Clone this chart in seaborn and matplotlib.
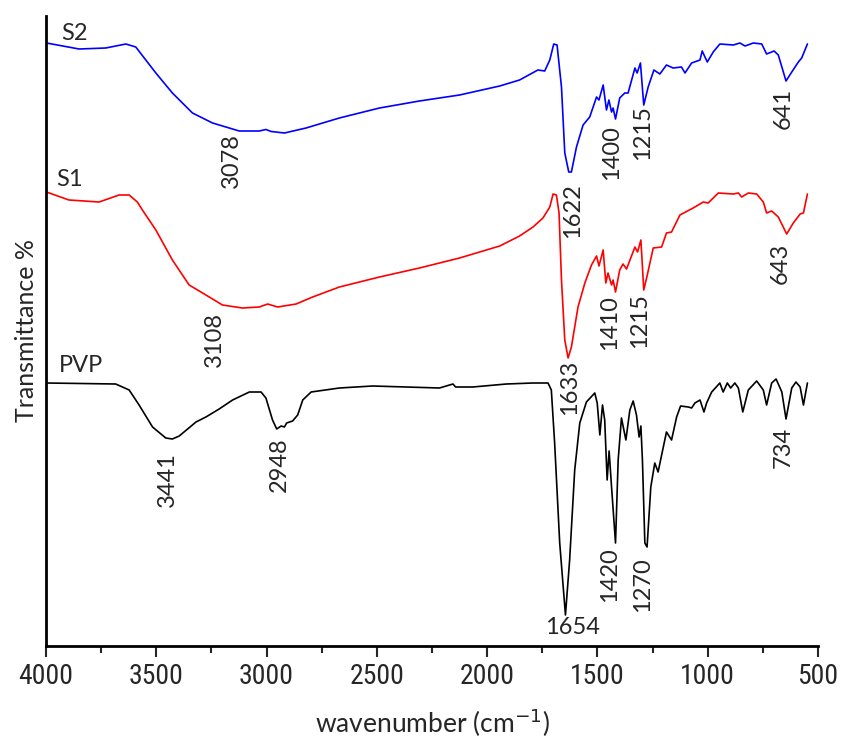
import matplotlib
matplotlib.use("Agg")
import matplotlib.pyplot as plt
from matplotlib import font_manager
import numpy as np
import pandas as pd
import seaborn as sns

# FTIR spectra (offset for display), wavenumber in cm^-1
s2_wn = [3998, 3850, 3729, 3638, 3593, 3502, 3427, 3336, 3245, 3124, 3033, 3003, 2979, 2919,
         2821, 2670, 2488, 2307, 2125, 1943, 1853, 1770, 1739, 1716, 1698, 1683, 1663, 1648,
         1630, 1618, 1595, 1565, 1535, 1504, 1493, 1474, 1459, 1448, 1436, 1429, 1418, 1399,
         1376, 1361, 1330, 1320, 1305, 1290, 1270, 1244, 1217, 1187, 1157, 1119, 1103, 1073,
         1035, 1025, 1002, 975, 945, 884, 854, 831, 793, 755, 733, 699, 680, 645, 619, 589,
         574, 548]
s2_t = [60.3, 59.7, 59.8, 60.2, 59.9, 57.3, 55.3, 53.3, 52.3, 51.5, 51.5, 51.65, 51.45, 51.3,
        51.8, 52.8, 53.8, 54.5, 55.1, 56.0, 56.6, 57.6, 57.5, 58.6, 60.2, 60.1, 55.9, 49.3,
        47.4, 47.4, 49.9, 52.1, 52.9, 54.9, 54.6, 56.1, 53.6, 54.6, 53.4, 53.8, 52.7, 54.8,
        55.3, 55.3, 57.8, 57.3, 58.3, 54.1, 55.9, 57.6, 57.2, 58.1, 57.8, 57.9, 57.3, 58.3,
        58.6, 59.5, 58.4, 59.4, 60.2, 60.1, 60.3, 60.0, 60.3, 60.2, 59.2, 59.5, 59.1, 56.5,
        57.4, 58.4, 58.8, 60.2]

s1_wn = [3998, 3896, 3759, 3669, 3623, 3586, 3563, 3502, 3427, 3351, 3275, 3200, 3109, 3033,
         2995, 2950, 2866, 2791, 2670, 2488, 2307, 2125, 1943, 1853, 1792, 1747, 1716, 1701,
         1686, 1674, 1663, 1648, 1633, 1618, 1588, 1557, 1527, 1504, 1493, 1474, 1462, 1452,
         1436, 1429, 1418, 1399, 1384, 1368, 1330, 1318, 1303, 1290, 1277, 1247, 1209, 1187,
         1164, 1126, 1066, 1020, 998, 952, 884, 861, 846, 816, 778, 748, 733, 710, 680, 642,
         612, 581, 566, 548]
s1_t = [45.4, 44.6, 44.4, 45.1, 45.1, 44.4, 43.6, 41.6, 38.6, 36.1, 35.1, 34.1, 33.8, 33.9,
        34.2, 33.9, 34.2, 34.9, 35.9, 36.9, 37.8, 38.8, 40.0, 41.0, 41.9, 42.8, 43.9, 45.2,
        45.1, 43.3, 36.6, 30.6, 28.8, 29.9, 33.9, 36.3, 38.1, 39.0, 38.0, 39.6, 36.3, 37.3,
        36.1, 36.6, 35.4, 37.6, 38.2, 37.7, 39.9, 39.4, 40.6, 35.6, 36.8, 39.8, 39.9, 41.3,
        41.4, 43.1, 43.8, 44.4, 44.3, 45.3, 45.2, 45.3, 44.9, 45.3, 45.2, 44.4, 43.3, 43.5,
        42.9, 41.2, 42.3, 43.2, 43.3, 45.2]

pvp_wn = [3998, 3684, 3623, 3578, 3517, 3457, 3427, 3396, 3320, 3275, 3215, 3154, 3078, 3025,
          3003, 2973, 2954, 2934, 2919, 2909, 2882, 2859, 2836, 2798, 2670, 2519, 2367, 2216,
          2155, 2143, 2065, 1913, 1792, 1724, 1709, 1694, 1671, 1645, 1626, 1603, 1580, 1550,
          1512, 1501, 1489, 1477, 1467, 1456, 1447, 1436, 1418, 1406, 1391, 1371, 1353, 1338,
          1323, 1311, 1303, 1296, 1285, 1275, 1258, 1240, 1225, 1187, 1164, 1141, 1123, 1088,
          1073, 1058, 1035, 1017, 1005, 982, 945, 930, 911, 896, 877, 861, 841, 816, 778, 748,
          733, 710, 690, 664, 645, 619, 600, 581, 566, 548]
pvp_t = [26.3, 26.2, 25.6, 24.1, 21.9, 20.8, 20.7, 21.0, 22.4, 22.9, 23.7, 24.6, 25.4, 25.4,
         24.8, 22.6, 21.7, 22.0, 21.9, 22.3, 22.5, 23.1, 24.6, 25.4, 25.8, 26.0, 25.9, 25.8,
         26.2, 25.9, 25.9, 26.2, 26.3, 26.3, 25.6, 20.3, 10.3, 3.1, 8.6, 17.6, 22.3, 24.4,
         25.3, 24.3, 21.1, 24.1, 22.6, 16.6, 19.5, 15.9, 10.3, 18.6, 22.8, 20.6, 23.6, 24.5,
         23.1, 20.9, 22.0, 18.6, 10.3, 9.9, 15.9, 18.3, 17.4, 21.4, 20.6, 22.9, 24.0, 23.9,
         23.8, 24.3, 24.6, 23.4, 24.3, 25.4, 26.3, 25.4, 26.3, 25.8, 26.3, 25.8, 23.4, 25.6,
         26.5, 25.6, 24.1, 26.3, 26.7, 25.4, 22.7, 25.8, 26.4, 25.9, 24.1, 26.3]

series_names = ["S2", "S1", "PVP"]
series_colors = ["#0000ff", "#ff0000", "#000000"]

# Series name labels: (text, wavenumber, level)
name_labels = [("S2", 3932, 61.3), ("S1", 3955, 46.6), ("PVP", 3941, 28.1)]

# Peak annotations: (text, wavenumber, level of the text top)
peak_labels = [
    ("3078", 3160, 51.3), ("1622", 1612, 46.3), ("1400", 1435, 52.1),
    ("1215", 1294, 54.1), ("641", 659, 55.8),
    ("3108", 3237, 33.4), ("1633", 1626, 28.6), ("1410", 1444, 35.1),
    ("1215", 1308, 35.3), ("643", 672, 40.3),
    ("3441", 3451, 19.4), ("2948", 2942, 20.9), ("1420", 1444, 9.9),
    ("1270", 1294, 8.9), ("734", 659, 21.9),
]
horizontal_label = ("1654", 1612, 1.9)

xticks = [4000, 3500, 3000, 2500, 2000, 1500, 1000, 500]

frames = []
for name, wn, t in [("S2", s2_wn, s2_t), ("S1", s1_wn, s1_t), ("PVP", pvp_wn, pvp_t)]:
    frames.append(pd.DataFrame({"wavenumber": wn, "T": t, "sample": name}))
df = pd.concat(frames, ignore_index=True)

sns.set_style("ticks")
label_font = ["Lato", "DejaVu Sans"]

# Narrow face for the tick numbers, if one is installed
installed = {f.name for f in font_manager.fontManager.ttflist}
tick_font = [f for f in ["Liberation Sans Narrow", "DejaVu Sans Condensed",
                         "Roboto Condensed", "Liberation Sans"] if f in installed] or ["DejaVu Sans"]
tick_size = 20 if tick_font[0] != "Liberation Sans" else 18

fig = plt.figure(figsize=(8.45, 7.46), dpi=100)
ax = fig.add_axes([46 / 845, 1 - 646 / 746, (818 - 46) / 845, (646 - 16) / 746])

for name, color in zip(series_names, series_colors):
    sub = df[df["sample"] == name]
    sns.lineplot(data=sub, x="wavenumber", y="T", sort=False, estimator=None,
                 color=color, linewidth=1.2, ax=ax, legend=False)

ax.set_xlim(4000, 500)
ax.set_ylim(0, 63)
ax.set_xticks(xticks)
ax.set_xticks(np.arange(3750, 500, -500), minor=True)
ax.set_xticklabels([str(v) for v in xticks], family=tick_font, fontsize=tick_size)
ax.set_yticks([])
ax.tick_params(axis="x", which="major", length=8, width=1.5, direction="out", pad=4)
ax.tick_params(axis="x", which="minor", length=5, width=1.5, direction="out")
for side in ["top", "right"]:
    ax.spines[side].set_visible(False)
for side in ["left", "bottom"]:
    ax.spines[side].set_linewidth(2)
    ax.spines[side].set_color("black")

ax.set_xlabel("wavenumber (cm$^{-1}$)", family=label_font, fontsize=19, labelpad=12)
ax.set_ylabel("Transmittance %", family=label_font, fontsize=18, labelpad=6)

for text, wn, lvl in name_labels:
    ax.text(wn, lvl, text, ha="left", va="center", fontsize=17, family=label_font)

for text, wn, lvl in peak_labels:
    ax.text(wn, lvl, text, rotation=90, ha="center", va="top", fontsize=17,
            family=label_font)

text, wn, lvl = horizontal_label
ax.text(wn, lvl, text, ha="center", va="center", fontsize=17, family=label_font)

fig.savefig("out.png", dpi=100)
